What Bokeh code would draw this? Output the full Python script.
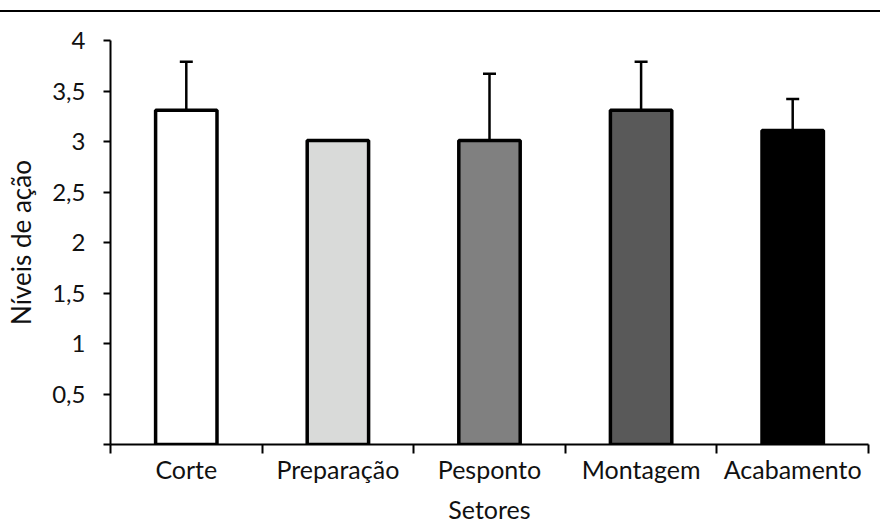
from bokeh.plotting import figure
from bokeh.models import (FixedTicker, CustomJSTickFormatter, Whisker, TeeHead,
                          ColumnDataSource, Div, Range1d)
from bokeh.layouts import column
from bokeh.embed import file_html
from bokeh.resources import INLINE

# ---- data ----
categories = ["Corte", "Preparação", "Pesponto", "Montagem", "Acabamento"]
means = [3.31, 3.01, 3.01, 3.31, 3.11]
errors = [0.48, 0.0, 0.66, 0.48, 0.31]
colors = ["#ffffff", "#d9dad9", "#808080", "#595959", "#000000"]
y_ticks = [0, 0.5, 1, 1.5, 2, 2.5, 3, 3.5, 4]

FONT = "Lato"

centers = [i + 0.5 for i in range(len(categories))]
bounds = list(range(len(categories) + 1))

src = ColumnDataSource(dict(x=centers, top=means, color=colors, cat=categories))

p = figure(width=880, height=516, output_backend="svg", toolbar_location=None,
           x_range=Range1d(0, len(categories)), y_range=Range1d(0, 4),
           min_border_left=110, min_border_right=12, min_border_top=28,
           min_border_bottom=84)
p.outline_line_color = None
p.grid.grid_line_color = None
p.background_fill_color = "white"
p.border_fill_color = "white"

p.vbar(x="x", top="top", width=0.405, bottom=0, source=src,
       fill_color="color", line_color="black", line_width=3.5)

# error bars (only non-zero)
ex = [c for c, e in zip(centers, errors) if e > 0]
elo = [m for m, e in zip(means, errors) if e > 0]
ehi = [m + e for m, e in zip(means, errors) if e > 0]
esrc = ColumnDataSource(dict(base=ex, lower=elo, upper=ehi))
w = Whisker(base="base", lower="lower", upper="upper", source=esrc,
            line_color="black", line_width=2.5, lower_head=None,
            upper_head=TeeHead(size=13, line_color="black", line_width=2.5))
p.add_layout(w)

# x axis: labels at centers, ticks at boundaries
xa = p.xaxis[0]
xa.ticker = FixedTicker(ticks=centers, minor_ticks=bounds)
labels_js = "const c = %r; return c[Math.floor(tick)];" % categories
xa.formatter = CustomJSTickFormatter(code=labels_js)
xa.major_tick_line_color = None
xa.minor_tick_line_color = "black"
xa.minor_tick_line_width = 2
xa.minor_tick_out = 9
xa.minor_tick_in = 0
xa.axis_line_width = 2
xa.axis_line_color = "black"
xa.major_label_text_font = FONT
xa.major_label_text_font_size = "25px"
xa.major_label_text_color = "#111111"
xa.major_label_standoff = 0
xa.axis_label = "Setores"
xa.axis_label_text_font = FONT
xa.axis_label_text_font_size = "25px"
xa.axis_label_text_font_style = "normal"
xa.axis_label_text_color = "#111111"
xa.axis_label_standoff = 7

ya = p.yaxis[0]
ya.ticker = FixedTicker(ticks=y_ticks)
ya.formatter = CustomJSTickFormatter(
    code='return tick == 0 ? "" : tick.toString().replace(".", ",");')
ya.major_tick_out = 7
ya.major_tick_in = 0
ya.major_tick_line_width = 2
ya.minor_tick_line_color = None
ya.axis_line_width = 2
ya.major_label_text_font = FONT
ya.major_label_text_font_size = "24px"
ya.major_label_text_color = "#111111"
ya.major_label_standoff = 18
ya.axis_label = "Níveis de ação"
ya.axis_label_text_font = FONT
ya.axis_label_text_font_size = "26px"
ya.axis_label_text_font_style = "normal"
ya.axis_label_text_color = "#111111"
ya.axis_label_standoff = 12

top_rule = Div(text="", width=880, height=2, margin=(10, 0, 0, 0),
               styles={"background-color": "black"})

layout = column(top_rule, p, spacing=0)
open("out.html", "w").write(file_html(layout, INLINE))
